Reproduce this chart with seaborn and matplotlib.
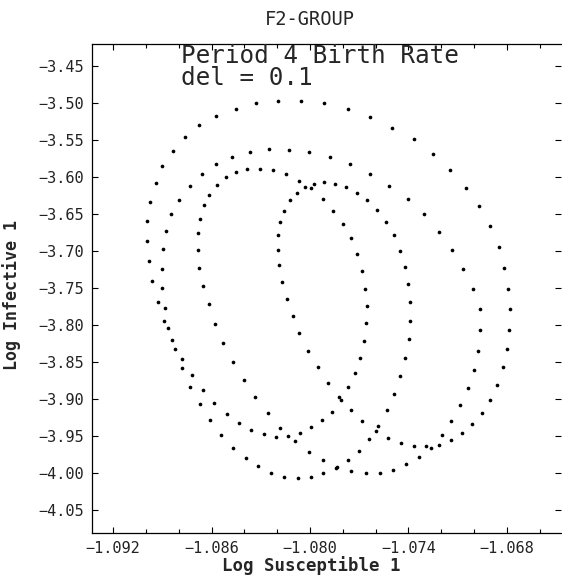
import numpy as np
import matplotlib
matplotlib.use("Agg")
import matplotlib.pyplot as plt
import seaborn as sns
from matplotlib.ticker import MultipleLocator, FuncFormatter

# ------------------------------- Data ------------------------------- #

# outer loop
outer_s = [-1.08329, -1.08193, -1.08057, -1.07914, -1.07770, -1.07635, -1.07501, -1.07368,
           -1.07251, -1.07147, -1.07052, -1.06973, -1.06906, -1.06851, -1.06817, -1.06792,
           -1.06782, -1.06786, -1.06800, -1.06825, -1.06859, -1.06906, -1.06952, -1.07013,
           -1.07076, -1.07144, -1.07214, -1.07263,
           -1.08453, -1.08573, -1.08674, -1.08763, -1.08836, -1.08902, -1.08940, -1.08973,
           -1.08991, -1.08993, -1.08983, -1.08961, -1.08927, -1.08889, -1.08839, -1.08780,
           -1.08721, -1.08654, -1.08583, -1.08507, -1.08434, -1.08359, -1.08282, -1.08205,
           -1.08134]
outer_i = [-3.5000, -3.4973, -3.4977, -3.5008, -3.5089, -3.5193, -3.5338, -3.5495,
           -3.5697, -3.5914, -3.6149, -3.6400, -3.6666, -3.6950, -3.7234, -3.7514,
           -3.7788, -3.8068, -3.8332, -3.8576, -3.8811, -3.9014, -3.9197, -3.9339,
           -3.9468, -3.9562, -3.9622, -3.9662,
           -3.5081, -3.5176, -3.5305, -3.5468, -3.5649, -3.5859, -3.6089, -3.6338,
           -3.6595, -3.6865, -3.7139, -3.7409, -3.7689, -3.7954, -3.8211, -3.8459,
           -3.8684, -3.8882, -3.9058, -3.9211, -3.9332, -3.9419, -3.9477, -3.9514,
           -3.9504]

# middle loop
middle_s = [-1.08473, -1.08366, -1.08250, -1.08128, -1.08005, -1.07877, -1.07756, -1.07635,
            -1.07517, -1.07405, -1.07308, -1.07216, -1.07135, -1.07070, -1.07009, -1.06965,
            -1.06966, -1.06979, -1.07001, -1.07040, -1.07085, -1.07139, -1.07198, -1.07334,
            -1.07415, -1.07496, -1.07576, -1.07661, -1.07750, -1.07834, -1.07842,
            -1.08573, -1.08658, -1.08731, -1.08796, -1.08845, -1.08877, -1.08894, -1.08902,
            -1.08900, -1.08883, -1.08863, -1.08822, -1.08780, -1.08731, -1.08670, -1.08609,
            -1.08540, -1.08469, -1.08392, -1.08317, -1.08238, -1.08157, -1.08075, -1.07996,
            -1.07919]
middle_i = [-3.5738, -3.5670, -3.5632, -3.5636, -3.5670, -3.5738, -3.5832, -3.5961,
            -3.6126, -3.6301, -3.6504, -3.6747, -3.6991, -3.7251, -3.7514, -3.7788,
            -3.8076, -3.8351, -3.8608, -3.8855, -3.9089, -3.9303, -3.9493, -3.9784,
            -3.9886, -3.9968, -4.0004, -4.0004, -3.9981, -3.9919, -3.9932,
            -3.5828, -3.5964, -3.6126, -3.6311, -3.6508, -3.6734, -3.6981, -3.7247,
            -3.7508, -3.7774, -3.8049, -3.8328, -3.8589, -3.8842, -3.9076, -3.9288,
            -3.9486, -3.9662, -3.9805, -3.9914, -4.0000, -4.0054, -4.0068, -4.0058,
            -4.0008]

# inner loop (left)
inner_a_s = [-1.08514, -1.08568, -1.08613, -1.08648, -1.08670, -1.08682, -1.08682, -1.08674,
             -1.08650, -1.08616, -1.08577, -1.08528, -1.08469, -1.08404, -1.08333, -1.08256,
             -1.08181, -1.08093, -1.08008, -1.07921, -1.07770, -1.07703, -1.07641, -1.07586,
             -1.07529,
             -1.08453, -1.08384, -1.08305, -1.08227, -1.08148, -1.08067, -1.07978, -1.07915,
             -1.07848, -1.07781, -1.07716, -1.07651, -1.07594, -1.07539, -1.07490, -1.07452,
             -1.07423, -1.07401, -1.07390, -1.07391, -1.07399, -1.07420, -1.07452, -1.07487]
inner_a_i = [-3.6004, -3.6112, -3.6247, -3.6386, -3.6572, -3.6765, -3.6991, -3.7230,
             -3.7473, -3.7727, -3.7986, -3.8243, -3.8504, -3.8747, -3.8981, -3.9189,
             -3.9396, -3.9572, -3.9716, -3.9832, -3.9832, -3.9703, -3.9541, -3.9364,
             -3.9155,
             -3.5941, -3.5900, -3.5892, -3.5914, -3.5968, -3.6054, -3.6095, -3.6076,
             -3.6099, -3.6143, -3.6216, -3.6319, -3.6446, -3.6608, -3.6788, -3.7000,
             -3.7220, -3.7450, -3.7697, -3.7946, -3.8197, -3.8450, -3.8693, -3.8936]

# inner loop (right)
inner_b_s = [-1.08031, -1.07992, -1.08081, -1.08124, -1.08160, -1.08183, -1.08193, -1.08193,
             -1.08189, -1.08172, -1.08142, -1.08105, -1.08065, -1.08010, -1.07953, -1.07890,
             -1.07822, -1.07750, -1.07682, -1.07600, -1.07527, -1.07446, -1.07368, -1.07295,
             -1.07919, -1.07858, -1.07799, -1.07750, -1.07712, -1.07682, -1.07663, -1.07653,
             -1.07659, -1.07671, -1.07694, -1.07728, -1.07767, -1.07813, -1.07866, -1.07929,
             -1.07994, -1.08059]
inner_b_i = [-3.6143, -3.6157, -3.6216, -3.6319, -3.6459, -3.6612, -3.6788, -3.6991,
             -3.7197, -3.7419, -3.7649, -3.7878, -3.8116, -3.8349, -3.8568, -3.8784,
             -3.8981, -3.9150, -3.9305, -3.9432, -3.9535, -3.9603, -3.9635, -3.9643,
             -3.6297, -3.6459, -3.6635, -3.6832, -3.7045, -3.7278, -3.7514, -3.7747,
             -3.7981, -3.8216, -3.8446, -3.8653, -3.8846, -3.9018, -3.9176, -3.9291,
             -3.9389, -3.9464]

# ------------------------------- Plot ------------------------------- #

sns.set_style("ticks")
plt.rcParams['font.family'] = ['DejaVu Sans Mono', 'DejaVu Sans']
plt.rcParams['axes.unicode_minus'] = True

s_all = np.concatenate([outer_s, middle_s, inner_a_s, inner_b_s])
i_all = np.concatenate([outer_i, middle_i, inner_a_i, inner_b_i])

fig = plt.figure(figsize=(5.62, 5.79), dpi=100)
ax = fig.add_axes([92 / 562, 46 / 579, 469 / 562, 489 / 579])

sns.scatterplot(x=s_all, y=i_all, ax=ax, s=7, color="black", linewidth=0, marker="o")

ax.set_xlim(-1.09328, -1.06471)
ax.set_ylim(-4.0815, -3.4207)

minus = lambda txt: txt.replace("-", "\u2212")
ax.xaxis.set_major_locator(MultipleLocator(0.006))
ax.xaxis.set_minor_locator(MultipleLocator(0.002))
ax.yaxis.set_major_locator(MultipleLocator(0.05))
ax.xaxis.set_major_formatter(FuncFormatter(lambda v, p: minus(f"{v:.3f}")))
ax.yaxis.set_major_formatter(FuncFormatter(lambda v, p: minus(f"{v:.2f}")))

ax.tick_params(which="both", direction="in", top=True, right=True, width=0.8, color="black")
ax.tick_params(which="major", length=4, labelsize=11, pad=6, labelcolor="#222222")
ax.tick_params(which="minor", length=3)
ax.spines["right"].set_visible(False)
for side in ["left", "bottom", "top"]:
    ax.spines[side].set_linewidth(0.9)
    ax.spines[side].set_color("black")

ax.set_xlabel("Log Susceptible 1", fontweight="bold", fontsize=12.5)
ax.xaxis.label.set_va("center")
ax.xaxis.set_label_coords((311 - 92) / 469, -(566 - 533) / 489)
ax.set_ylabel("Log Infective 1", fontweight="bold", fontsize=12)
ax.yaxis.label.set_va("center")
ax.yaxis.set_label_coords((12 - 92) / 469, (533 - 295) / 489)

ax.set_title("F2-GROUP", fontsize=13.5, x=(310 - 92) / 469, pad=13.5)

ax.text((181 - 92) / 469, (533 - 63) / 489, "Period 4 Birth Rate", transform=ax.transAxes,
        fontsize=17.5, va="baseline", ha="left")
ax.text((181 - 92) / 469, (533 - 85) / 489, "del = 0.1", transform=ax.transAxes,
        fontsize=17.5, va="baseline", ha="left")

fig.savefig("out.png", dpi=100)
